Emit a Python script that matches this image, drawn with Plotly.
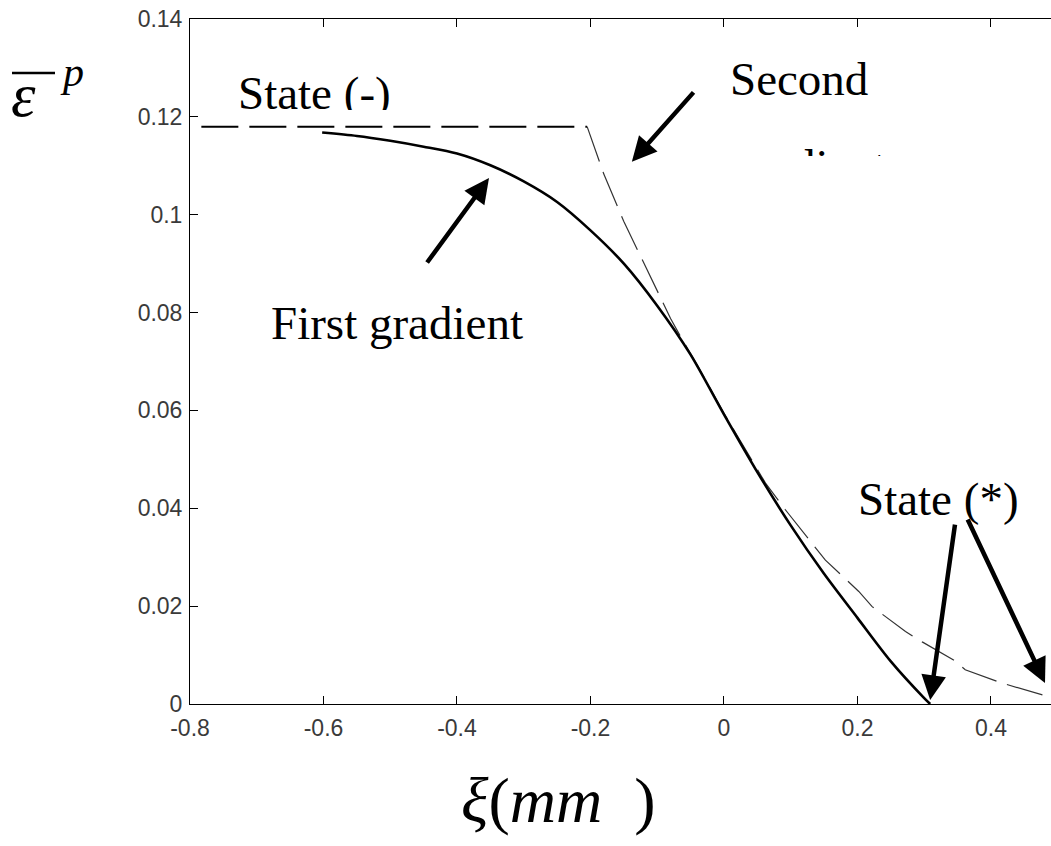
import plotly.graph_objects as go

# ---- data -------------------------------------------------------------
# first-gradient solution (solid)
first_x = [-0.602, -0.55, -0.5, -0.45, -0.4, -0.35, -0.3, -0.25, -0.2, -0.15,
           -0.1, -0.05, 0.0, 0.05, 0.1, 0.15, 0.2, 0.25, 0.3, 0.309]
first_y = [0.1168, 0.1161, 0.1151, 0.1139, 0.1125, 0.1101, 0.1068, 0.1026, 0.0968,
           0.0900, 0.0814, 0.0714, 0.0592, 0.0474, 0.0365, 0.0266, 0.0176, 0.0087,
           0.0012, 0.0]

# plateau of state (-)
plateau_x = [-0.783, -0.205]
plateau_y = [0.118, 0.118]

# second-gradient solution (dashed)
second_x = [-0.205, -0.18, -0.15, -0.115, -0.08, -0.063, -0.04, 0.0, 0.03, 0.062,
            0.092, 0.132, 0.152, 0.202, 0.222, 0.272, 0.297, 0.344, 0.3615, 0.416,
            0.436, 0.486]
second_y = [0.118, 0.1083, 0.0986, 0.0887, 0.0788, 0.0746, 0.0693, 0.0594, 0.0524,
            0.0452, 0.0397, 0.0329, 0.0294, 0.0230, 0.0199, 0.0148, 0.0127, 0.0090,
            0.0070, 0.0043, 0.0035, 0.0015]

x_ticks = [-0.8, -0.6, -0.4, -0.2, 0, 0.2, 0.4]
x_tick_labels = ["-0.8", "-0.6", "-0.4", "-0.2", "0", "0.2", "0.4"]
y_ticks = [0, 0.02, 0.04, 0.06, 0.08, 0.1, 0.12, 0.14]
y_tick_labels = ["0", "0.02", "0.04", "0.06", "0.08", "0.1", "0.12", "0.14"]

# arrow tips (data) and tail offsets (pixels)
arrow_tip_x = [-0.352, -0.138, 0.309, 0.481]
arrow_tip_y = [0.1075, 0.1108, 0.0008, 0.0043]
arrow_dx = [-63, 63, 25, -78]
arrow_dy = [86, -71, -177, -165]

# ---- layout geometry ----------------------------------------------------
W, H = 1051, 846
L, R, T, B = 190, 0, 19, 142
PW, PH = W - L - R, H - T - B
X_RANGE = [-0.8, 0.49]
Y_RANGE = [0, 0.14]


def px(xp):
    return (xp - L) / PW


def py(yp):
    return (H - B - yp) / PH


def dx(xp):
    return X_RANGE[0] + (xp - L) / PW * (X_RANGE[1] - X_RANGE[0])


def dy(yp):
    return Y_RANGE[0] + (H - B - yp) / PH * (Y_RANGE[1] - Y_RANGE[0])


SERIF = "Liberation Serif, Times New Roman, serif"
SANS = "Liberation Sans, Arial, sans-serif"

fig = go.Figure()

fig.add_trace(go.Scatter(x=plateau_x, y=plateau_y, mode="lines",
                         line=dict(color="black", width=2, dash="37px,11px"),
                         showlegend=False, hoverinfo="skip"))
fig.add_trace(go.Scatter(x=second_x, y=second_y, mode="lines",
                         line=dict(color="#333333", width=1.2, dash="37px,11px"),
                         showlegend=False, hoverinfo="skip"))
fig.add_trace(go.Scatter(x=first_x, y=first_y, mode="lines", line_shape="spline",
                         line=dict(color="black", width=2.6, smoothing=0.8),
                         showlegend=False, hoverinfo="skip"))

# labels whose lower part is hidden by a white box
fig.add_trace(go.Scatter(x=[dx(238)], y=[dy(97)], mode="text", text=["State (-)"],
                         textposition="middle right",
                         textfont=dict(family=SERIF, size=47, color="black"),
                         showlegend=False, hoverinfo="skip"))
fig.add_trace(go.Scatter(x=[dx(732)], y=[dy(170)], mode="text", text=["gradient"],
                         textposition="middle right",
                         textfont=dict(family=SERIF, size=47, color="black"),
                         showlegend=False, hoverinfo="skip"))

shapes = [
    dict(type="rect", xref="paper", yref="paper", x0=px(232), x1=px(402),
         y0=py(121), y1=py(110), fillcolor="white", line=dict(width=0), layer="above"),
    dict(type="rect", xref="paper", yref="paper", x0=px(722), x1=px(910),
         y0=py(210), y1=py(156), fillcolor="white", line=dict(width=0), layer="above"),
    # bar over epsilon
    dict(type="line", xref="paper", yref="paper", x0=px(12), x1=px(55),
         y0=py(73), y1=py(73), line=dict(color="black", width=2.5)),
]

annotations = []


def label(text, left, center, size, family=SERIF):
    annotations.append(dict(text=text, xref="paper", yref="paper", x=px(left),
                            y=py(center), xanchor="left", yanchor="middle",
                            showarrow=False, font=dict(family=family, size=size,
                                                       color="black")))


label("Second", 728, 79, 47)
label("First gradient", 269, 323, 47)
label("State (*)", 856, 499, 47)
label("<i>ξ</i>(<i>mm</i>&nbsp; )", 459, 800, 64)
label("<i>ε</i>", 9, 95, 62)
label("<i>p</i>", 58, 72, 42)

for tx, ty, ax, ay in zip(arrow_tip_x, arrow_tip_y, arrow_dx, arrow_dy):
    annotations.append(dict(x=tx, y=ty, xref="x", yref="y", text="", showarrow=True,
                            ax=ax, ay=ay, arrowhead=2, arrowsize=1.1, arrowwidth=4.5,
                            arrowcolor="black", standoff=0))

axis_common = dict(showgrid=False, zeroline=False, showline=True, linecolor="black",
                   linewidth=1, ticks="inside", ticklen=8, tickcolor="black",
                   tickfont=dict(family=SANS, size=23, color="#3a3a3a"))

fig.update_layout(
    width=W, height=H,
    margin=dict(l=L, r=R, t=T, b=B, pad=0),
    paper_bgcolor="white", plot_bgcolor="white",
    xaxis=dict(range=X_RANGE, tickvals=x_ticks, ticktext=x_tick_labels,
               mirror="ticks", ticklabelstandoff=3, **axis_common),
    yaxis=dict(range=Y_RANGE, tickvals=y_ticks, ticktext=y_tick_labels,
               mirror=False, ticklabelstandoff=2, **axis_common),
    yaxis2=dict(range=Y_RANGE, overlaying="y", side="right", tickvals=y_ticks,
                showticklabels=False, showgrid=False, zeroline=False, showline=False,
                ticks="inside", ticklen=4, tickcolor="black"),
    shapes=shapes,
    annotations=annotations,
    showlegend=False,
)

fig.write_html("out.html")
